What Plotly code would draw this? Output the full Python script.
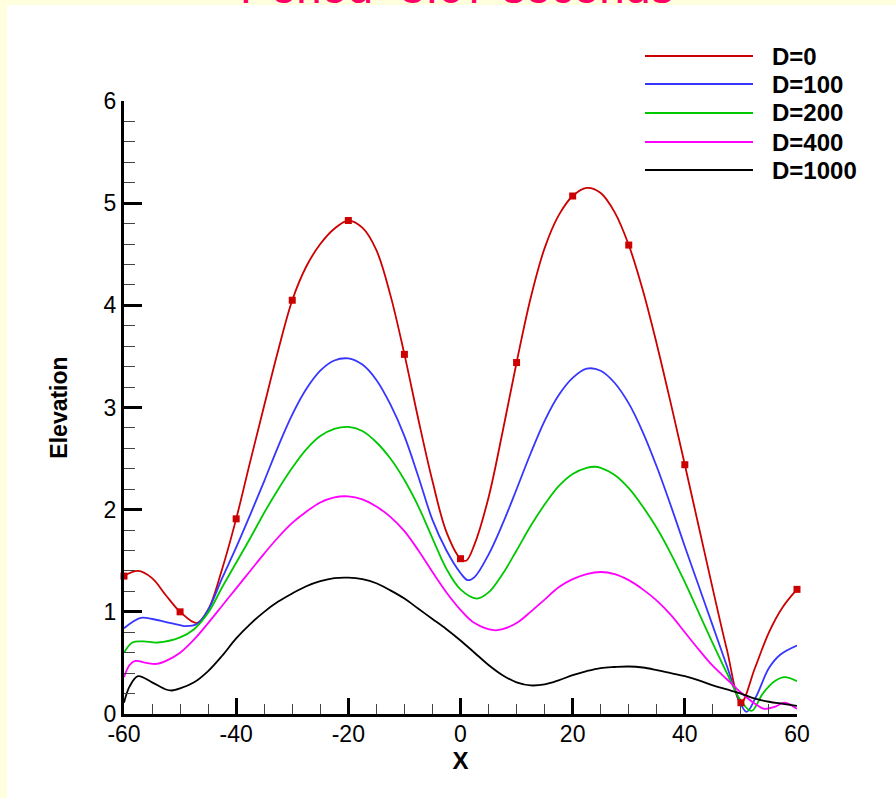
import plotly.graph_objects as go

# ---------------- data ----------------
names = ["D=0", "D=100", "D=200", "D=400", "D=1000"]
colors = ["#CC0000", "#3636FF", "#00C800", "#FF00FF", "#000000"]

x_ticks = [-60, -40, -20, 0, 20, 40, 60]
x_ticklabels = ["-60", "-40", "-20", "0", "20", "40", "60"]
y_ticks = [0, 1, 2, 3, 4, 5, 6]

x_d0 = [-60, -57.5, -55, -52.5, -50, -47, -45, -42.5, -40, -37.5, -35, -32.5, -30, -27.5, -25, -22.5,
        -20, -17.5, -15, -12.5, -10, -7.5, -5, -2.5, 0, 1, 2.5, 5, 7.5, 10, 12.5, 15, 17.5, 20, 22.5,
        25, 27.5, 30, 32.5, 35, 37.5, 40, 42.5, 45, 47.5, 50, 52.5, 55, 57.5, 60]
y_d0 = [1.35, 1.40, 1.33, 1.16, 1.00, 0.89, 1.02, 1.42, 1.91, 2.47, 3.02, 3.56, 4.05, 4.38, 4.60, 4.75,
        4.83, 4.76, 4.54, 4.10, 3.52, 2.88, 2.28, 1.78, 1.52, 1.50, 1.66, 2.12, 2.76, 3.44, 4.07, 4.56,
        4.88, 5.07, 5.15, 5.10, 4.91, 4.59, 4.15, 3.62, 3.04, 2.44, 1.83, 1.22, 0.63, 0.11, 0.45, 0.80,
        1.05, 1.22]

x_mk = [-60, -50, -40, -30, -20, -10, 0, 10, 20, 30, 40, 50, 60]
y_mk = [1.35, 1.00, 1.91, 4.05, 4.83, 3.52, 1.52, 3.44, 5.07, 4.59, 2.44, 0.11, 1.22]

x_d100 = [-60, -57, -55, -52.5, -50, -49, -47, -45, -42.5, -40, -37.5, -35, -32.5, -30, -27.5, -25,
          -22.5, -20, -17.5, -15, -12.5, -10, -7.5, -5, -2.5, 0, 1.3, 2.5, 5, 7.5, 10, 12.5, 15, 17.5,
          20, 22.5, 25, 27.5, 30, 32.5, 35, 37.5, 40, 42.5, 45, 47.5, 49.2, 51, 52.7, 55, 57, 60]
y_d100 = [0.84, 0.94, 0.93, 0.90, 0.87, 0.86, 0.88, 1.02, 1.33, 1.63, 1.95, 2.28, 2.62, 2.93, 3.18,
          3.36, 3.46, 3.48, 3.42, 3.27, 3.03, 2.72, 2.32, 1.90, 1.60, 1.38, 1.31, 1.34, 1.56, 1.86,
          2.20, 2.55, 2.87, 3.12, 3.29, 3.38, 3.36, 3.24, 3.04, 2.76, 2.42, 2.04, 1.64, 1.25, 0.86,
          0.47, 0.20, 0.02, 0.17, 0.45, 0.58, 0.67]

x_d200 = [-60, -58.5, -56.5, -54, -50, -47.5, -45, -42.5, -40, -37.5, -35, -32.5, -30, -27.5, -25,
          -22.5, -20, -17.5, -15, -12.5, -10, -7.5, -5, -2.5, 0, 2.9, 5, 7.5, 10, 12.5, 15, 17.5, 20,
          22.5, 24, 25, 27.5, 30, 32.5, 35, 37.5, 40, 42.5, 45, 47.5, 50, 51.9, 53.9, 56, 57.8, 60]
y_d200 = [0.60, 0.70, 0.71, 0.70, 0.75, 0.83, 0.99, 1.24, 1.48, 1.72, 1.97, 2.20, 2.41, 2.59, 2.72,
          2.79, 2.81, 2.77, 2.66, 2.50, 2.29, 2.03, 1.72, 1.42, 1.22, 1.13, 1.19, 1.37, 1.60, 1.84,
          2.05, 2.23, 2.35, 2.41, 2.42, 2.41, 2.34, 2.21, 2.03, 1.82, 1.57, 1.29, 0.99, 0.69, 0.40,
          0.13, 0.03, 0.20, 0.32, 0.36, 0.32]

x_d400 = [-60, -59, -58, -56, -54.2, -52.5, -50, -47.5, -45, -42.5, -40, -37.5, -35, -32.5, -30,
          -27.5, -25, -22.5, -20, -17.5, -15, -12.5, -10, -7.5, -5, -2.5, 0, 2.5, 6, 7.5, 10, 12.5,
          15, 17.5, 20, 22.5, 25, 27.5, 30, 32.5, 35, 37.5, 40, 42.5, 45, 47.5, 50, 52.5, 54.2, 56,
          57.8, 60]
y_d400 = [0.36, 0.48, 0.52, 0.50, 0.49, 0.52, 0.60, 0.73, 0.89, 1.06, 1.23, 1.40, 1.57, 1.73, 1.87,
          1.98, 2.07, 2.12, 2.13, 2.10, 2.03, 1.93, 1.79, 1.60, 1.39, 1.19, 1.02, 0.89, 0.82, 0.83,
          0.89, 1.00, 1.12, 1.24, 1.32, 1.37, 1.39, 1.37, 1.31, 1.22, 1.11, 0.97, 0.80, 0.63, 0.47,
          0.34, 0.21, 0.10, 0.05, 0.07, 0.11, 0.05]

x_d1000 = [-60, -59, -57.5, -55, -52.5, -51.5, -50, -47.5, -45, -42.5, -40, -37.5, -35, -32.5, -30,
           -27.5, -25, -22.5, -20, -17.5, -15, -12.5, -10, -7.5, -5, -2.5, 0, 2.5, 5, 7.5, 10, 12.5,
           15, 17.5, 20, 22.5, 25, 27.5, 30, 32.5, 35, 37.5, 40, 42.5, 45, 47.5, 50, 52.5, 55, 57.5,
           60]
y_d1000 = [0.11, 0.27, 0.37, 0.31, 0.24, 0.23, 0.25, 0.31, 0.42, 0.57, 0.74, 0.88, 1.00, 1.10, 1.18,
           1.25, 1.30, 1.33, 1.335, 1.32, 1.28, 1.21, 1.13, 1.03, 0.93, 0.83, 0.72, 0.60, 0.48, 0.38,
           0.31, 0.28, 0.29, 0.33, 0.38, 0.42, 0.45, 0.46, 0.465, 0.455, 0.43, 0.40, 0.37, 0.33, 0.28,
           0.24, 0.20, 0.15, 0.12, 0.10, 0.08]

xs = [x_d0, x_d100, x_d200, x_d400, x_d1000]
ys = [y_d0, y_d100, y_d200, y_d400, y_d1000]

title_text = "Period=8.07 seconds"
x_title = "X"
y_title = "Elevation"

# ---------------- figure ----------------
W, H = 896, 798
L, R, T, B = 124, 99, 101, 84
pw, ph = W - L - R, H - T - B


def px2paper_x(px):
    return (px - L) / pw


def px2paper_y(py):
    return (H - B - py) / ph


fig = go.Figure()
for name, c, xv, yv in zip(names, colors, xs, ys):
    fig.add_trace(go.Scatter(x=xv, y=yv, mode="lines", name=name,
                             line=dict(color=c, width=1.8, shape="spline", smoothing=1.0),
                             showlegend=False, cliponaxis=False))
fig.add_trace(go.Scatter(x=x_mk, y=y_mk, mode="markers", name="D=0 nodes", showlegend=False,
                         marker=dict(symbol="square", size=7, color="#CC0000"), cliponaxis=False))

shapes = [
    # white page over the yellow border
    dict(type="rect", xref="paper", yref="paper", layer="below",
         x0=px2paper_x(7), x1=px2paper_x(W + 5), y0=px2paper_y(H + 5), y1=px2paper_y(5),
         fillcolor="white", line=dict(width=0)),
]
annotations = [
    dict(text=title_text, xref="paper", yref="paper", x=px2paper_x(456), y=px2paper_y(5),
         xanchor="center", yanchor="bottom", showarrow=False,
         font=dict(family="Liberation Sans, Arial", size=46, color="#FF0066"), yshift=-10),
]
# manual legend (long line samples as in the reference)
leg_rows = [56, 84, 113, 142, 170]
for name, c, py in zip(names, colors, leg_rows):
    shapes.append(dict(type="line", xref="paper", yref="paper",
                       x0=px2paper_x(645), x1=px2paper_x(753), y0=px2paper_y(py), y1=px2paper_y(py),
                       line=dict(color=c, width=2)))
    annotations.append(dict(text="<b>%s</b>" % name, xref="paper", yref="paper",
                            x=px2paper_x(770), y=px2paper_y(py), xanchor="left", yanchor="middle",
                            showarrow=False,
                            font=dict(family="Liberation Sans, Arial", size=24, color="black")))

fig.update_layout(
    width=W, height=H, margin=dict(l=L, r=R, t=T, b=B, pad=0),
    paper_bgcolor="#FFFFDD", plot_bgcolor="white",
    font=dict(family="Liberation Sans, Arial", size=22, color="black"),
    shapes=shapes, annotations=annotations, showlegend=False,
)
fig.update_xaxes(range=[-60, 60], tickmode="array", tickvals=x_ticks, ticktext=x_ticklabels,
                 showgrid=False, zeroline=False,
                 showline=True, linewidth=3, linecolor="black", mirror=False,
                 ticks="inside", ticklen=16, tickwidth=3, tickcolor="black",
                 minor=dict(ticks="inside", ticklen=10, tickwidth=1, tickcolor="#444", dtick=5, tick0=0),
                 tickfont=dict(size=23), ticklabelstandoff=-3,
                 title=dict(text="<b>%s</b>" % x_title, font=dict(size=24), standoff=0))
fig.update_yaxes(range=[0, 6], tickmode="array", tickvals=y_ticks,
                 showgrid=False, zeroline=False,
                 showline=True, linewidth=3, linecolor="black", mirror=False,
                 ticks="inside", ticklen=18, tickwidth=3, tickcolor="black",
                 minor=dict(ticks="inside", ticklen=11, tickwidth=1, tickcolor="#444", dtick=0.2, tick0=0),
                 tickfont=dict(size=23),
                 title=dict(text="<b>%s</b>" % y_title, font=dict(size=23), standoff=30))

fig.write_html("out.html")
